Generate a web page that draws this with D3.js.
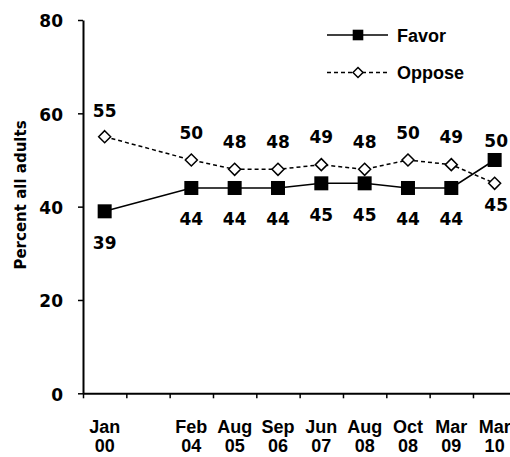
<!DOCTYPE html>
<html>
<head>
<meta charset="utf-8">
<script src="https://cdn.jsdelivr.net/npm/d3@7"></script>
<style>
  html, body { margin: 0; padding: 0; background: #fff; overflow: hidden; }
  svg { display: block; }
</style>
</head>
<body>
<div id="chart"></div>
<script>
// ---- data ----
const months = ["Jan", "", "Feb", "Aug", "Sep", "Jun", "Aug", "Oct", "Mar", "Mar"];
const years  = ["00", "", "04", "05", "06", "07", "08", "08", "09", "10"];
const favor  = [39, null, 44, 44, 44, 45, 45, 44, 44, 50];
const oppose = [55, null, 50, 48, 48, 49, 48, 50, 49, 45];
const yTicks = [0, 20, 40, 60, 80];
const seriesNames = ["Favor", "Oppose"];
const yTitle = "Percent all adults";

(function () {
// ---- layout ----
const W = 510, H = 457;
const plotLeft = 83, plotTop = 20, plotBottom = 393.3;
const band = 43.33;
const numFont = "'DejaVu Sans', sans-serif";
const wordFont = "'Liberation Sans', Arial, sans-serif";

const svg = d3.select("#chart").append("svg")
  .attr("width", W).attr("height", H);

const idx = months.map((_, i) => i);
const xb = d3.scaleBand().domain(idx).range([plotLeft, plotLeft + band * months.length]).padding(0);
const xl = d3.scaleLinear().domain([0, months.length]).range([plotLeft, plotLeft + band * months.length]);
const y = d3.scaleLinear().domain([0, 80]).range([plotBottom, plotTop]);
const cx = i => xb(i) + xb.bandwidth() / 2;

// y axis
const yAxis = svg.append("g")
  .attr("transform", `translate(${plotLeft},0)`)
  .call(d3.axisLeft(y).tickValues(yTicks).tickSize(5).tickPadding(15).tickSizeOuter(0));
yAxis.select(".domain").attr("stroke", "#000").attr("stroke-width", 2);
yAxis.selectAll(".tick line").attr("stroke", "#000").attr("stroke-width", 1.5);
yAxis.selectAll(".tick text")
  .attr("font-family", numFont).attr("font-weight", "bold").attr("font-size", 17)
  .attr("fill", "#000").attr("dy", "0.4em");

// x axis tick marks (at band edges)
const xTickAxis = svg.append("g")
  .attr("transform", `translate(0,${plotBottom})`)
  .call(d3.axisBottom(xl).tickValues(d3.range(0, months.length + 1)).tickSize(5).tickSizeOuter(0).tickFormat(""));
xTickAxis.select(".domain").attr("stroke", "#000").attr("stroke-width", 2);
xTickAxis.selectAll(".tick line").attr("stroke", "#000").attr("stroke-width", 1.5);

// x axis labels (band centres, two lines)
const xLabAxis = svg.append("g")
  .attr("transform", `translate(0,${plotBottom})`)
  .call(d3.axisBottom(xb).tickSize(0).tickFormat(""));
xLabAxis.select(".domain").remove();
xLabAxis.selectAll(".tick text").remove();
const tickG = xLabAxis.selectAll(".tick");
tickG.append("text")
  .attr("text-anchor", "middle").attr("y", 40)
  .attr("font-family", wordFont).attr("font-weight", "bold").attr("font-size", 18)
  .attr("fill", "#000")
  .text(i => months[i]);
tickG.append("text")
  .attr("text-anchor", "middle").attr("y", 59.2)
  .attr("font-family", wordFont).attr("font-weight", "bold").attr("font-size", 18)
  .attr("fill", "#000")
  .text(i => years[i]);

// y title
svg.append("text")
  .attr("transform", `translate(26,195) rotate(-90)`)
  .attr("text-anchor", "middle")
  .attr("font-family", numFont).attr("font-weight", "bold").attr("font-size", 15)
  .attr("fill", "#000")
  .text(yTitle);

// lines
const pts = arr => arr.map((v, i) => ({ i, v })).filter(d => d.v != null);
const line = d3.line().x(d => cx(d.i)).y(d => y(d.v));

svg.append("path").datum(pts(oppose))
  .attr("d", line).attr("fill", "none").attr("stroke", "#000")
  .attr("stroke-width", 1.5).attr("stroke-dasharray", "4,3");
svg.append("path").datum(pts(favor))
  .attr("d", line).attr("fill", "none").attr("stroke", "#000")
  .attr("stroke-width", 1.6);

// markers
const diamond = (s) => `M0,${-s}L${s},0L0,${s}L${-s},0Z`;
svg.selectAll(".opp").data(pts(oppose)).enter().append("path")
  .attr("transform", d => `translate(${cx(d.i)},${y(d.v)})`)
  .attr("d", diamond(6))
  .attr("fill", "#fff").attr("stroke", "#000").attr("stroke-width", 1.5);
svg.selectAll(".fav").data(pts(favor)).enter().append("rect")
  .attr("x", d => cx(d.i) - 7).attr("y", d => y(d.v) - 7)
  .attr("width", 14).attr("height", 14).attr("fill", "#000");

// data labels
const labelG = svg.append("g")
  .attr("font-family", numFont).attr("font-weight", "bold").attr("font-size", 17)
  .attr("fill", "#000").attr("text-anchor", "middle");
pts(oppose).forEach(d => {
  const crossed = favor[d.i] > d.v;
  const dy = crossed ? 21 : (d.i === 0 ? -26 : -27.5);
  labelG.append("text")
    .attr("x", cx(d.i) + (crossed ? 1.5 : 0))
    .attr("y", y(d.v) + dy + 6.2)
    .text(d.v);
});
pts(favor).forEach(d => {
  const crossed = d.v > oppose[d.i];
  const dy = crossed ? -19.5 : 31;
  labelG.append("text")
    .attr("x", cx(d.i) + (crossed ? 1.5 : 0))
    .attr("y", y(d.v) + dy + 6.2)
    .text(d.v);
});

// legend
const legX1 = 327, legX2 = 388, legMid = 358;
const lg = svg.append("g");
lg.append("line").attr("x1", legX1).attr("x2", legX2).attr("y1", 35).attr("y2", 35)
  .attr("stroke", "#000").attr("stroke-width", 1.6);
lg.append("rect").attr("x", legMid - 5.3).attr("y", 35 - 5.3).attr("width", 10.6).attr("height", 10.6).attr("fill", "#000");
lg.append("text").attr("x", 397).attr("y", 42)
  .attr("font-family", wordFont).attr("font-weight", "bold").attr("font-size", 18)
  .text(seriesNames[0]);
lg.append("line").attr("x1", legX1).attr("x2", legX2).attr("y1", 72.5).attr("y2", 72.5)
  .attr("stroke", "#000").attr("stroke-width", 1.5).attr("stroke-dasharray", "4,3");
lg.append("path").attr("transform", `translate(${legMid},72.5)`).attr("d", diamond(5))
  .attr("fill", "#fff").attr("stroke", "#000").attr("stroke-width", 1.5);
lg.append("text").attr("x", 397).attr("y", 79)
  .attr("font-family", wordFont).attr("font-weight", "bold").attr("font-size", 18)
  .text(seriesNames[1]);
})();
</script>
</body>
</html>
